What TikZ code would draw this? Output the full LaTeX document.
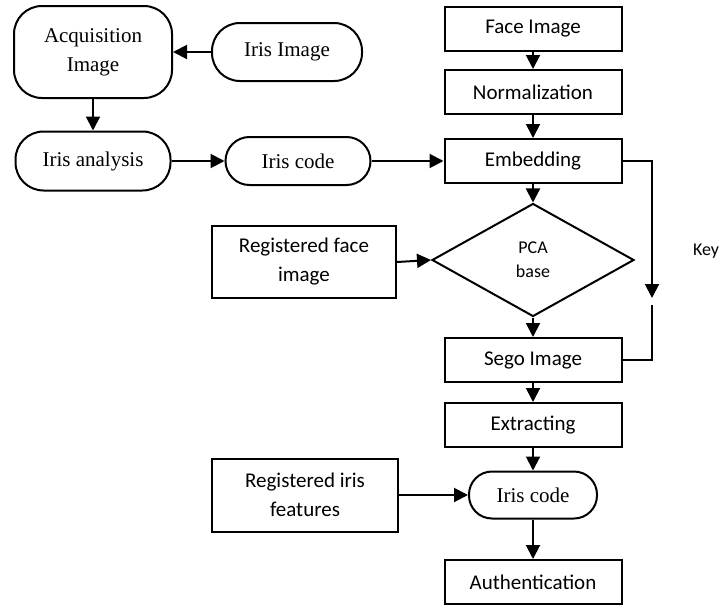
\documentclass[tikz,border=0pt]{standalone}
\usepackage{fontspec}
\setmainfont{Liberation Serif}
\newfontfamily\calibri{Carlito}
\usetikzlibrary{shapes.geometric,arrows.meta}

\begin{document}
\begin{tikzpicture}[x=1pt,y=-1pt,line width=2pt,
    >={Triangle[length=14pt,width=14pt]},
    pill/.style={draw,rounded corners=#1,align=center,inner sep=0pt,
      font=\fontsize{21}{28}\selectfont},
    box/.style={draw,align=center,inner sep=0pt,minimum width=177pt,
      minimum height=44pt,font=\calibri\fontsize{21}{29}\selectfont}]
  \useasboundingbox (0,0) rectangle (728,605);
  % iris side
  \node[pill=28pt,minimum width=158pt,minimum height=92pt] (acq) at (93,52) {Acquisition\\[1pt]Image};
  \node[pill=28pt,minimum width=150pt,minimum height=58pt] (irisimg) at (287,52) {Iris Image};
  \node[pill=28pt,minimum width=155pt,minimum height=59pt] (analysis) at (93,161) {Iris analysis};
  \node[pill=24pt,minimum width=145pt,minimum height=48pt] (code1) at (298,161) {Iris code};
  % face side
  \node[box] (face) at (533,29) {Face Image};
  \node[box] (norm) at (533,92) {Normalization};
  \node[box] (embed) at (533,161) {Embedding};
  \node[draw,diamond,aspect=1.8,inner sep=0pt,minimum width=202pt,minimum height=113pt,
    font=\calibri\fontsize{18}{24}\selectfont,align=center] (pca) at (533,260) {PCA\\base};
  \node[box,minimum width=184pt,minimum height=72pt] (regface) at (304,262) {Registered face\\image};
  \node[box] (sego) at (533,360) {Sego Image};
  \node[box] (extract) at (533,425) {Extracting};
  \node[pill=23pt,minimum width=128pt,minimum height=47pt] (code2) at (533,495) {Iris code};
  \node[box,minimum width=186pt,minimum height=73pt] (regiris) at (305,495) {Registered iris\\features};
  \node[box] (auth) at (533,582) {Authentication};
  \node[font=\calibri\fontsize{18}{20}\selectfont] (key) at (706,251) {Key};
  \coordinate (k1) at (652,298);
  \coordinate (k2) at (652,305);

  \draw[->] (irisimg) -- (acq);
  \draw[->] (acq) -- (analysis);
  \draw[->] (analysis) -- (code1);
  \draw[->] (code1) -- (embed);
  \draw[->] (face) -- (norm);
  \draw[->] (norm) -- (embed);
  \draw[->] (embed) -- (pca);
  \draw[->] (regface.east) -- (pca.west);
  \draw[->] (pca) -- (sego);
  \draw[->] (sego) -- (extract);
  \draw[->] (extract) -- (code2);
  \draw[->] (regiris) -- (code2);
  \draw[->] (code2) -- (auth);
  \draw[->] (embed.east) -| (k1);
  \draw (k2) |- (sego.east);
\end{tikzpicture}
\end{document}
